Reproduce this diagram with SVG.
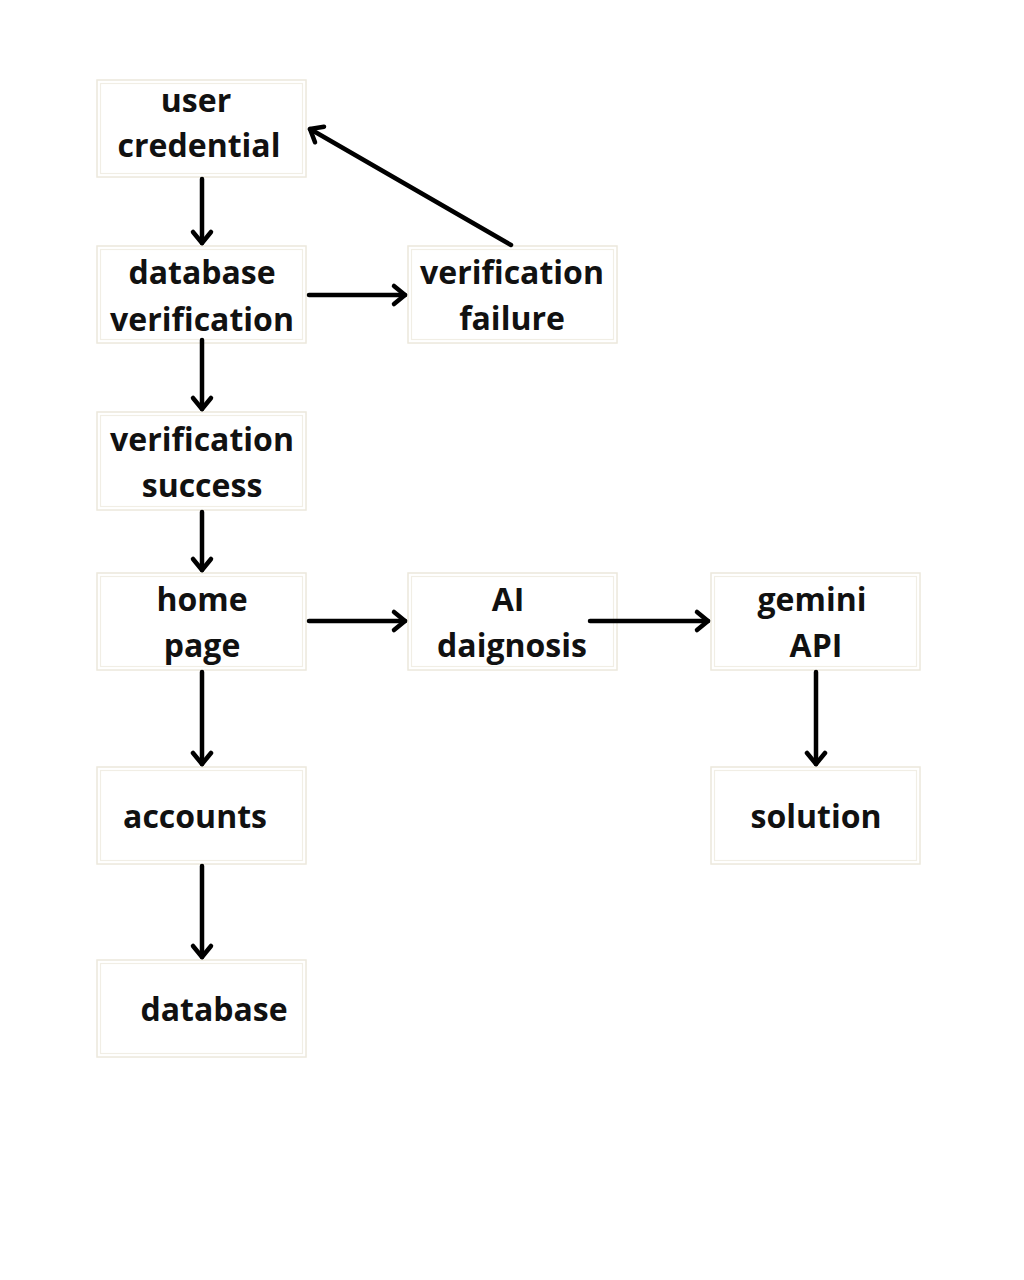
<svg xmlns="http://www.w3.org/2000/svg" width="1024" height="1280" viewBox="0 0 1024 1280">
<style>
.box{fill:#ffffff;stroke:#ece8dc;stroke-width:1.5}
.inner{fill:none;stroke:#f1eee5;stroke-width:1.2}
.t{font-family:"Open Sans","DejaVu Sans",sans-serif;font-weight:700;font-size:32px;fill:#111111;text-anchor:middle}
.c{stroke:#000;stroke-width:4.5;fill:none;stroke-linecap:round}
</style>
<defs>
<marker id="ah" markerUnits="userSpaceOnUse" markerWidth="30" markerHeight="30" viewBox="-15 -15 30 30" refX="0" refY="0" orient="auto">
<path d="M-11,-9 L0,0 L-11,9" fill="none" stroke="#000" stroke-width="4.5" stroke-linecap="round" stroke-linejoin="round"/>
</marker>
</defs>
<rect width="1024" height="1280" fill="#ffffff"/>
<g id="n-user-credential">
<rect class="box" x="97" y="80" width="209" height="97"/><rect class="inner" x="100.5" y="83.5" width="202" height="90"/>
<text class="t" x="196" y="112">user</text><text class="t" x="199" y="157">credential</text>
</g>
<g id="n-database-verification">
<rect class="box" x="97" y="246" width="209" height="97"/><rect class="inner" x="100.5" y="249.5" width="202" height="90"/>
<text class="t" x="202" y="284">database</text><text class="t" x="202" y="331">verification</text>
</g>
<g id="n-verification-failure">
<rect class="box" x="408" y="246" width="209" height="97"/><rect class="inner" x="411.5" y="249.5" width="202" height="90"/>
<text class="t" x="512" y="284">verification</text><text class="t" x="512" y="330">failure</text>
</g>
<g id="n-verification-success">
<rect class="box" x="97" y="412" width="209" height="98"/><rect class="inner" x="100.5" y="415.5" width="202" height="91"/>
<text class="t" x="202" y="451">verification</text><text class="t" x="202" y="497">success</text>
</g>
<g id="n-home-page">
<rect class="box" x="97" y="573" width="209" height="97"/><rect class="inner" x="100.5" y="576.5" width="202" height="90"/>
<text class="t" x="202" y="611">home</text><text class="t" x="202" y="657">page</text>
</g>
<g id="n-ai-daignosis">
<rect class="box" x="408" y="573" width="209" height="97"/><rect class="inner" x="411.5" y="576.5" width="202" height="90"/>
<text class="t" x="508" y="611">AI</text><text class="t" x="512" y="657">daignosis</text>
</g>
<g id="n-gemini-api">
<rect class="box" x="711" y="573" width="209" height="97"/><rect class="inner" x="714.5" y="576.5" width="202" height="90"/>
<text class="t" x="812" y="611">gemini</text><text class="t" x="816" y="657">API</text>
</g>
<g id="n-solution">
<rect class="box" x="711" y="767" width="209" height="97"/><rect class="inner" x="714.5" y="770.5" width="202" height="90"/>
<text class="t" x="816" y="828">solution</text>
</g>
<g id="n-accounts">
<rect class="box" x="97" y="767" width="209" height="97"/><rect class="inner" x="100.5" y="770.5" width="202" height="90"/>
<text class="t" x="195" y="828">accounts</text>
</g>
<g id="n-database">
<rect class="box" x="97" y="960" width="209" height="97"/><rect class="inner" x="100.5" y="963.5" width="202" height="90"/>
<text class="t" x="214" y="1021">database</text>
</g>
<g id="connectors">
<line class="c" x1="202" y1="179" x2="202" y2="243" marker-end="url(#ah)"/>
<line class="c" x1="309" y1="295" x2="405" y2="295" marker-end="url(#ah)"/>
<line class="c" x1="511" y1="245" x2="310" y2="129" marker-end="url(#ah)"/>
<line class="c" x1="202" y1="340" x2="202" y2="409" marker-end="url(#ah)"/>
<line class="c" x1="202" y1="512" x2="202" y2="570" marker-end="url(#ah)"/>
<line class="c" x1="309" y1="621" x2="405" y2="621" marker-end="url(#ah)"/>
<line class="c" x1="590" y1="621" x2="708" y2="621" marker-end="url(#ah)"/>
<line class="c" x1="202" y1="672" x2="202" y2="764" marker-end="url(#ah)"/>
<line class="c" x1="816" y1="672" x2="816" y2="764" marker-end="url(#ah)"/>
<line class="c" x1="202" y1="866" x2="202" y2="957" marker-end="url(#ah)"/>
</g>
</svg>
